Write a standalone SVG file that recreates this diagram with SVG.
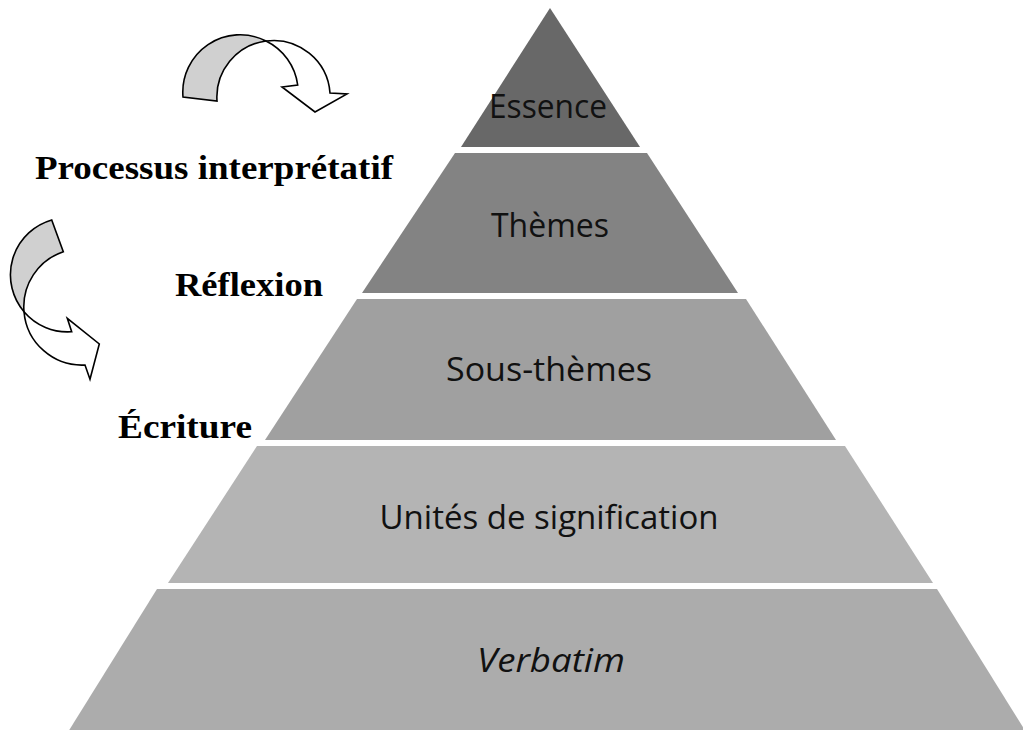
<svg xmlns="http://www.w3.org/2000/svg" width="1023" height="730" viewBox="0 0 1023 730">
<style>
.lvl{font-family:"Open Sans","Noto Sans",sans-serif;font-size:32px;fill:#111;text-anchor:middle}
.lbl{font-family:"Liberation Serif","Times New Roman",serif;font-size:33px;font-weight:bold;fill:#000}
.arr{stroke:#000;stroke-width:1.6;stroke-linejoin:miter}
</style>
<rect width="1023" height="730" fill="#fff"/>
<g id="essence">
<polygon points="550,8 640,147 461,147" fill="#686868"/>
<text class="lvl" x="548" y="118" textLength="118" lengthAdjust="spacingAndGlyphs">Essence</text>
</g>
<g id="themes">
<polygon points="455,153 647,153 738,293 362,293" fill="#838383"/>
<text class="lvl" x="550" y="237">Thèmes</text>
</g>
<g id="sous-themes">
<polygon points="357,299 746,299 836,440 265,440" fill="#a0a0a0"/>
<text class="lvl" x="549" y="381" textLength="206" lengthAdjust="spacingAndGlyphs">Sous-thèmes</text>
</g>
<g id="unites">
<polygon points="257,446 845,446 933,583 168,583" fill="#b4b4b4"/>
<text class="lvl" x="549" y="529" textLength="339" lengthAdjust="spacingAndGlyphs">Unités de signification</text>
</g>
<g id="verbatim">
<polygon points="157,589 937,589 1026,732 68,732" fill="#acacac"/>
<text class="lvl" x="551" y="672" font-style="italic" textLength="148" lengthAdjust="spacingAndGlyphs">Verbatim</text>
</g>
<g id="labels">
<text class="lbl" x="35" y="179" textLength="358" lengthAdjust="spacingAndGlyphs">Processus interprétatif</text>
<text class="lbl" x="175" y="296" textLength="148" lengthAdjust="spacingAndGlyphs">Réflexion</text>
<text class="lbl" x="118" y="438" textLength="134" lengthAdjust="spacingAndGlyphs">Écriture</text>
</g>
<g id="connectors">
<g id="arrow-top">
<path class="arr" fill="#d0d0d0" d="M183,97 A57.3,57.3 0 0 1 266,41 A56.7,56.7 0 0 0 217,101 Z"/>
<path class="arr" fill="#fff" d="M266,41 A56.7,56.7 0 0 1 330,93 L347,94 L315,112 L282,87 L297.7,85 A57.3,57.3 0 0 0 266,41 Z"/>
</g>
<g id="arrow-left">
<path class="arr" fill="#d0d0d0" d="M51.7,220 A57,57 0 0 0 24,311.7 A58.2,58.2 0 0 1 63.3,251.7 Z"/>
<path class="arr" fill="#fff" d="M24,311.7 A58.2,58.2 0 0 0 85,365 L90,379.3 L99.3,344 L67.3,318.3 L71.7,331.7 A57,57 0 0 1 24,311.7 Z"/>
</g>
</g>
</svg>
